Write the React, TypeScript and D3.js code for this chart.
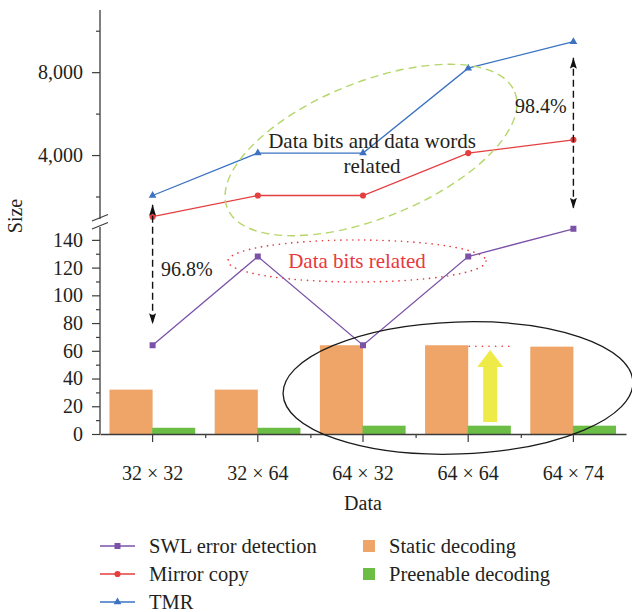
import React, { useEffect, useRef } from 'react';
import * as d3 from 'd3';

const categories = ['32 × 32', '32 × 64', '64 × 32', '64 × 64', '64 × 74'];
const swlValues = [64, 128, 64, 128, 148];
const mirrorValues = [1024, 2048, 2048, 4096, 4736];
const tmrValues = [2048, 4096, 4096, 8192, 9472];
const staticValues = [32, 32, 64, 64, 63];
const preenableValues = [4.5, 4.5, 6, 6, 6];

const lowerTicks = [0, 20, 40, 60, 80, 100, 120, 140];
const lowerMinorTicks = [10, 30, 50, 70, 90, 110, 130];
const upperTicks = [4000, 8000];
const upperMinorTicks = [2000, 6000, 10000];

const font = "'Liberation Serif', 'Times New Roman', serif";
const textColor = '#231f20';
const axisColor = '#3c3c3c';
const colors = {
  swl: '#7b52a8',
  mirror: '#e53e3f',
  tmr: '#3b73c2',
  stat: '#eea567',
  pre: '#6cbd45'
};

const W = 632;
const H = 612;

export default function App() {
  const ref = useRef<SVGSVGElement>(null);

  useEffect(() => {
    const svg = d3.select(ref.current);
    svg.selectAll('*').remove();

    const x = d3.scaleBand<string>().domain(categories).range([100, 626]);
    const yLow = d3.scaleLinear().domain([0, 150]).range([434, 226]);
    const yHigh = d3.scaleLinear().domain([770, 11000]).range([222, 10]);
    const cx = (c: string) => (x(c) as number) + x.bandwidth() / 2;
    const barW = x.bandwidth() * 0.41;

    // arrow head marker
    svg.append('defs')
      .append('marker')
      .attr('id', 'arrowHead')
      .attr('viewBox', '0 0 11 7')
      .attr('refX', 11)
      .attr('refY', 3.5)
      .attr('markerWidth', 11)
      .attr('markerHeight', 7)
      .attr('markerUnits', 'userSpaceOnUse')
      .attr('orient', 'auto-start-reverse')
      .append('path')
      .attr('d', 'M0,0 L11,3.5 L0,7 L2,3.5 Z')
      .attr('fill', '#111');

    // bars
    const bars = svg.append('g');
    bars.selectAll('.stat')
      .data(staticValues)
      .enter()
      .append('rect')
      .attr('x', (d, i) => cx(categories[i]) - barW)
      .attr('y', (d) => yLow(d))
      .attr('width', barW)
      .attr('height', (d) => yLow(0) - yLow(d))
      .attr('fill', colors.stat);
    bars.selectAll('.pre')
      .data(preenableValues)
      .enter()
      .append('rect')
      .attr('x', (d, i) => cx(categories[i]) - 0.5)
      .attr('y', (d) => yLow(d))
      .attr('width', barW)
      .attr('height', (d) => yLow(0) - yLow(d))
      .attr('fill', colors.pre);

    // axes
    const axes = svg.append('g')
      .attr('font-family', font)
      .attr('fill', textColor);

    const leftLow = axes.append('g')
      .attr('transform', 'translate(100,0)')
      .call(d3.axisLeft(yLow).tickValues(lowerTicks).tickSize(8).tickSizeOuter(0).tickPadding(9));
    axes.append('g')
      .attr('transform', 'translate(100,0)')
      .call(d3.axisLeft(yLow).tickValues(lowerMinorTicks).tickSize(4).tickFormat(() => ''))
      .select('.domain').remove();

    const leftHigh = axes.append('g')
      .attr('transform', 'translate(100,0)')
      .call(d3.axisLeft(yHigh).tickValues(upperTicks).tickSize(8).tickSizeOuter(0).tickPadding(9).tickFormat(d3.format(',')));
    axes.append('g')
      .attr('transform', 'translate(100,0)')
      .call(d3.axisLeft(yHigh).tickValues(upperMinorTicks).tickSize(4).tickFormat(() => ''))
      .select('.domain').remove();

    leftLow.select('.domain').remove();
    leftHigh.select('.domain').remove();

    axes.append('line')
      .attr('x1', 100).attr('x2', 100)
      .attr('y1', 10).attr('y2', 219)
      .attr('stroke', axisColor).attr('stroke-width', 1.3);
    axes.append('line')
      .attr('x1', 100).attr('x2', 100)
      .attr('y1', 227).attr('y2', yLow(0))
      .attr('stroke', axisColor).attr('stroke-width', 1.3);

    // break marks
    [0, 8].forEach((off) => {
      axes.append('line')
        .attr('x1', 92).attr('y1', 221 + off)
        .attr('x2', 108).attr('y2', 214.5 + off)
        .attr('stroke', axisColor)
        .attr('stroke-width', 1.2);
    });

    const bottom = axes.append('g')
      .attr('transform', 'translate(0,' + yLow(0) + ')')
      .call(d3.axisBottom(x).tickSize(8).tickSizeOuter(0).tickPadding(24));
    bottom.select('.domain').attr('stroke', axisColor).attr('stroke-width', 1.3);
    axes.append('g')
      .attr('transform', 'translate(0,' + yLow(0) + ')')
      .call(
        d3.axisBottom(d3.scaleLinear().domain([0, 5]).range([100, 626]))
          .tickValues([1, 2, 3, 4])
          .tickSize(4)
          .tickFormat(() => '')
      )
      .select('.domain').remove();

    axes.selectAll('.tick line').attr('stroke', axisColor).attr('stroke-width', 1.2);
    axes.selectAll('.tick text')
      .attr('font-size', 20)
      .attr('font-family', font)
      .attr('fill', textColor);

    axes.append('text')
      .attr('x', cx(categories[2]))
      .attr('y', 510)
      .attr('text-anchor', 'middle')
      .attr('font-size', 20)
      .text('Data');
    axes.append('text')
      .attr('transform', 'translate(22,216) rotate(-90)')
      .attr('text-anchor', 'middle')
      .attr('font-size', 20)
      .text('Size');

    // lines
    const series = [
      { values: swlValues, color: colors.swl, scale: yLow, marker: 'square' },
      { values: mirrorValues, color: colors.mirror, scale: yHigh, marker: 'circle' },
      { values: tmrValues, color: colors.tmr, scale: yHigh, marker: 'triangle' }
    ];
    const symbolFor = (m: string) =>
      m === 'square'
        ? d3.symbol().type(d3.symbolSquare).size(36)
        : m === 'circle'
          ? d3.symbol().type(d3.symbolCircle).size(30)
          : d3.symbol().type(d3.symbolTriangle).size(26);

    series.forEach((s) => {
      const line = d3.line<number>()
        .x((d, i) => cx(categories[i]))
        .y((d) => s.scale(d));
      const g = svg.append('g');
      g.append('path')
        .attr('d', line(s.values))
        .attr('fill', 'none')
        .attr('stroke', s.color)
        .attr('stroke-width', 1.3);
      g.selectAll('.pt')
        .data(s.values)
        .enter()
        .append('path')
        .attr('d', symbolFor(s.marker) as any)
        .attr('transform', (d, i) => 'translate(' + cx(categories[i]) + ',' + s.scale(d) + ')')
        .attr('fill', s.color);
    });

    // annotations
    const ann = svg.append('g').attr('font-family', font);

    ann.append('ellipse')
      .attr('transform', 'translate(371,150) rotate(-22)')
      .attr('rx', 155)
      .attr('ry', 68)
      .attr('fill', 'none')
      .attr('stroke', '#b5d66a')
      .attr('stroke-width', 1.4)
      .attr('stroke-dasharray', '8,5');

    ann.append('ellipse')
      .attr('cx', 357)
      .attr('cy', 261)
      .attr('rx', 129)
      .attr('ry', 21)
      .attr('fill', 'none')
      .attr('stroke', '#e8383d')
      .attr('stroke-width', 1.6)
      .attr('stroke-linecap', 'round')
      .attr('stroke-dasharray', '0.1,6');

    ann.append('ellipse')
      .attr('transform', 'translate(458,388) rotate(-2)')
      .attr('rx', 175)
      .attr('ry', 66)
      .attr('fill', 'none')
      .attr('stroke', '#1a1a1a')
      .attr('stroke-width', 1.3);

    // red dotted level line
    ann.append('line')
      .attr('x1', cx(categories[3]) + 1)
      .attr('x2', cx(categories[3]) + 43)
      .attr('y1', yLow(staticValues[3]) + 1)
      .attr('y2', yLow(staticValues[3]) + 1)
      .attr('stroke', '#e8383d')
      .attr('stroke-width', 1.6)
      .attr('stroke-linecap', 'round')
      .attr('stroke-dasharray', '0.1,6.5');

    // yellow arrow
    const ax = cx(categories[3]) + 22;
    ann.append('path')
      .attr('d',
        'M' + (ax - 7) + ',422 L' + (ax - 7) + ',367 L' + (ax - 13) + ',367 L' + ax + ',350 L' +
        (ax + 13) + ',367 L' + (ax + 7) + ',367 L' + (ax + 7) + ',422 Z')
      .attr('fill', '#eeea48');

    // dashed double arrows
    const arrows = [
      { i: 0, top: yHigh(mirrorValues[0]) - 12, bottom: yLow(swlValues[0]) - 21 },
      { i: 4, top: yHigh(tmrValues[4]) + 16, bottom: yLow(swlValues[4]) - 20 }
    ];
    arrows.forEach((a) => {
      ann.append('line')
        .attr('x1', cx(categories[a.i]))
        .attr('x2', cx(categories[a.i]))
        .attr('y1', a.top)
        .attr('y2', a.bottom)
        .attr('stroke', '#111')
        .attr('stroke-width', 1.4)
        .attr('stroke-dasharray', '7,4')
        .attr('marker-start', 'url(#arrowHead)')
        .attr('marker-end', 'url(#arrowHead)');
    });

    ann.append('text')
      .attr('x', 161).attr('y', 276)
      .attr('font-size', 20).attr('fill', textColor)
      .text('96.8%');
    ann.append('text')
      .attr('x', 515).attr('y', 113)
      .attr('font-size', 20).attr('fill', textColor)
      .text('98.4%');

    ann.append('text')
      .attr('x', 372).attr('y', 148)
      .attr('text-anchor', 'middle')
      .attr('font-size', 21).attr('fill', textColor)
      .text('Data bits and data words');
    ann.append('text')
      .attr('x', 372).attr('y', 173)
      .attr('text-anchor', 'middle')
      .attr('font-size', 21).attr('fill', textColor)
      .text('related');

    ann.append('text')
      .attr('x', 357).attr('y', 268)
      .attr('text-anchor', 'middle')
      .attr('font-size', 21).attr('fill', '#e8383d')
      .text('Data bits related');

    // legend
    const legend = svg.append('g').attr('font-family', font).attr('font-size', 20.5).attr('fill', textColor);
    const lineLegend = [
      { name: 'SWL error detection', s: series[0] },
      { name: 'Mirror copy', s: series[1] },
      { name: 'TMR', s: series[2] }
    ];
    lineLegend.forEach((l, i) => {
      const yy = 546 + i * 28;
      legend.append('line')
        .attr('x1', 100).attr('x2', 135)
        .attr('y1', yy).attr('y2', yy)
        .attr('stroke', l.s.color)
        .attr('stroke-width', 1.3);
      legend.append('path')
        .attr('d', symbolFor(l.s.marker) as any)
        .attr('transform', 'translate(117.5,' + yy + ')')
        .attr('fill', l.s.color);
      legend.append('text')
        .attr('x', 149).attr('y', yy + 7)
        .text(l.name);
    });
    const barLegend = [
      { name: 'Static decoding', color: colors.stat },
      { name: 'Preenable decoding', color: colors.pre }
    ];
    barLegend.forEach((b, i) => {
      const yy = 546 + i * 28;
      legend.append('rect')
        .attr('x', 363).attr('y', yy - 6)
        .attr('width', 12).attr('height', 12)
        .attr('fill', b.color);
      legend.append('text')
        .attr('x', 389).attr('y', yy + 7)
        .text(b.name);
    });
  }, []);

  return (
    <svg
      ref={ref}
      width={W}
      height={H}
      style={{ position: 'absolute', left: 0, top: 0, background: '#fff' }}
    />
  );
}
